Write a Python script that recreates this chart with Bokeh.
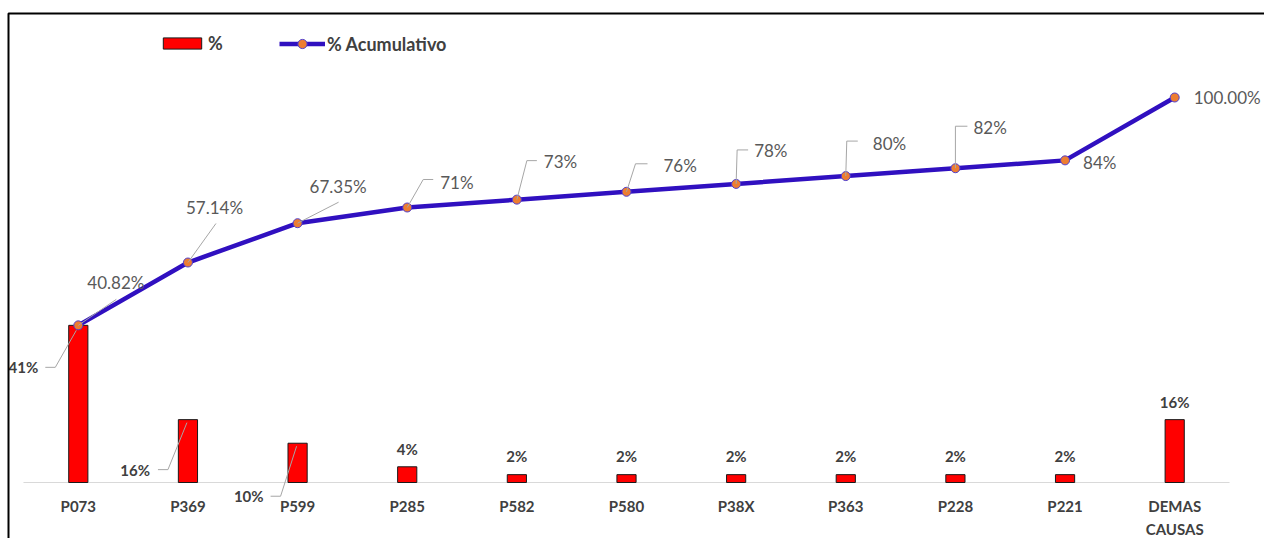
from bokeh.plotting import figure
from bokeh.models import (Range1d, Legend, LegendItem, ColumnDataSource, LinearAxis,
                          FixedTicker, LabelSet, BoxAnnotation)
from bokeh.core.properties import value
from bokeh.embed import file_html
from bokeh.resources import INLINE

# ---------------- data ----------------
categories = ["P073", "P369", "P599", "P285", "P582", "P580", "P38X", "P363", "P228", "P221", "DEMAS\nCAUSAS"]
pct = [40.82, 16.33, 10.20, 4.08, 2.04, 2.04, 2.04, 2.04, 2.04, 2.04, 16.33]
cum = [40.82, 57.14, 67.35, 71.43, 73.47, 75.51, 77.55, 79.59, 81.63, 83.67, 100.00]
pct_labels = ["41%", "16%", "10%", "4%", "2%", "2%", "2%", "2%", "2%", "2%", "16%"]
cum_labels = ["40.82%", "57.14%", "67.35%", "71%", "73%", "76%", "78%", "80%", "82%", "84%", "100.00%"]

idx = list(range(len(categories)))

# ---------------- layout (pixels) ----------------
W, H = 1264, 538
FIRST_CAT_PX = 77.8       # centre of first category from canvas left
CAT_PX = 109.64           # pixels per category
BASE_PX = 482             # baseline (0 %) from canvas top
PCT_PX = 3.85             # pixels per percent

x_start = -FIRST_CAT_PX / CAT_PX
x_end = (W - FIRST_CAT_PX) / CAT_PX
y_start = -(H - BASE_PX) / PCT_PX
y_end = BASE_PX / PCT_PX

p = figure(width=W, height=H, x_range=Range1d(x_start, x_end), y_range=Range1d(y_start, y_end),
           output_backend="svg", toolbar_location=None, x_axis_location=None, y_axis_location=None,
           min_border_left=0, min_border_right=0, min_border_top=0, min_border_bottom=0)
p.outline_line_color = None
p.xgrid.grid_line_color = None
p.ygrid.grid_line_color = None
p.background_fill_color = "white"
p.border_fill_color = "white"

# chart border (left and top visible)
p.add_layout(BoxAnnotation(left=8, top=13, right=W + 200, bottom=H + 200,
                           left_units="canvas", right_units="canvas",
                           top_units="canvas", bottom_units="canvas",
                           fill_alpha=0, line_color="#000000", line_alpha=1.0,
                           line_width=2, level="overlay"))

# category axis drawn at 0 %
ax = LinearAxis(fixed_location=0, ticker=FixedTicker(ticks=idx),
                major_label_overrides={i: c for i, c in zip(idx, categories)})
ax.axis_line_color = None
ax.major_tick_line_color = None
ax.minor_tick_line_color = None
ax.major_tick_out = 0
ax.major_tick_in = 0
ax.major_label_standoff = 14
ax.major_label_text_font = "Lato"
ax.major_label_text_font_style = "bold"
ax.major_label_text_font_size = "15px"
ax.major_label_text_color = "#404040"
ax.major_label_text_line_height = 1.3
p.add_layout(ax, "below")

# baseline of the category axis
p.segment(x0=[idx[0] - 0.5], x1=[idx[-1] + 0.5], y0=[0], y1=[0], line_color="#d9d9d9", line_width=1)

# bars
bars = p.vbar(x=idx, top=pct, width=0.175, fill_color="#FF0000", line_color="#1a1a1a", line_width=1)

# cumulative line
ln = p.line(x=idx, y=cum, line_color="#3010C0", line_width=4.5)
mk = p.scatter(x=idx, y=cum, size=9, fill_color="#ED7D31", line_color="#5040D0", line_width=1)

# ---------- leader lines (offsets in px relative to the point / bar top; screen y down) ----------
leaders_cum = {
    0: [(0, 0), (38, -26)],
    1: [(0, 0), (28, -39)],
    2: [(0, 0), (41, -21)],
    3: [(0, 0), (16, -28), (26, -28)],
    4: [(0, 0), (10, -39), (20, -39)],
    5: [(0, 0), (9, -28), (21, -28)],
    6: [(0, 0), (1, -34), (12, -34)],
    7: [(0, 0), (1, -35), (12, -35)],
    8: [(0, 0), (0, -42), (12, -42)],
}
leaders_bar = {
    0: [(-33, 42), (-23, 42), (-2, 5)],
    1: [(-30, 50), (-20, 50), (-1, 3)],
    2: [(-27, 53), (-17, 53), (-1, 3)],
}
xs, ys = [], []
for i, pts in leaders_cum.items():
    xs.append([idx[i] + dx / CAT_PX for dx, dy in pts])
    ys.append([cum[i] - dy / PCT_PX for dx, dy in pts])
for i, pts in leaders_bar.items():
    xs.append([idx[i] + dx / CAT_PX for dx, dy in pts])
    ys.append([pct[i] - dy / PCT_PX for dx, dy in pts])
p.multi_line(xs=xs, ys=ys, line_color="#a6a6a6", line_width=1)

# ---------- cumulative labels ----------
cum_dx = [9, -2, 12, 33, 27, 37, 18, 27, 18, 18, 19]
cum_dy = [-43, -55, -37, -25, -38, -26, -33, -33, -41, 2, 0]
src_cum = ColumnDataSource(dict(x=idx, y=cum, t=cum_labels, dx=cum_dx, dy=[-d for d in cum_dy]))
p.add_layout(LabelSet(x="x", y="y", text="t", x_offset="dx", y_offset="dy", source=src_cum,
                      text_align="left", text_baseline="middle", text_font=value("Lato"),
                      text_font_size="17px", text_color="#595959"))

# ---------- bar labels ----------
bar_dx = [-40, -38, -34, 0, 0, 0, 0, 0, 0, 0, 0]
bar_dy = [42, 50, 53, -18, -19, -19, -19, -19, -19, -19, -18]
side = slice(0, 3)
top_ = slice(3, 11)
src_bl = ColumnDataSource(dict(x=idx[side], y=pct[side], t=pct_labels[side],
                               dx=bar_dx[side], dy=[-d for d in bar_dy[side]]))
src_bt = ColumnDataSource(dict(x=idx[top_], y=pct[top_], t=pct_labels[top_],
                               dx=bar_dx[top_], dy=[-d for d in bar_dy[top_]]))
for src, al in ((src_bl, "right"), (src_bt, "center")):
    p.add_layout(LabelSet(x="x", y="y", text="t", x_offset="dx", y_offset="dy", source=src,
                          text_align=al, text_baseline="middle", text_font=value("Lato"),
                          text_font_style="bold", text_font_size="15px", text_color="#404040"))

# ---------- legends ----------
common = dict(orientation="horizontal", padding=0, margin=0, border_line_color=None,
              background_fill_alpha=0, label_text_font="Lato", label_text_font_style="bold",
              label_text_font_size="18px", label_text_color="#404040", label_standoff=2)
leg1 = Legend(items=[LegendItem(label="%", renderers=[bars])], location=(158, H - 54),
              glyph_width=48, glyph_height=14, label_height=14, **common)
leg2 = Legend(items=[LegendItem(label="% Acumulativo", renderers=[ln, mk])], location=(279, H - 55),
              glyph_width=46, glyph_height=23, label_height=14, **common)
p.add_layout(leg1, "center")
p.add_layout(leg2, "center")

open("out.html", "w").write(file_html(p, INLINE))
